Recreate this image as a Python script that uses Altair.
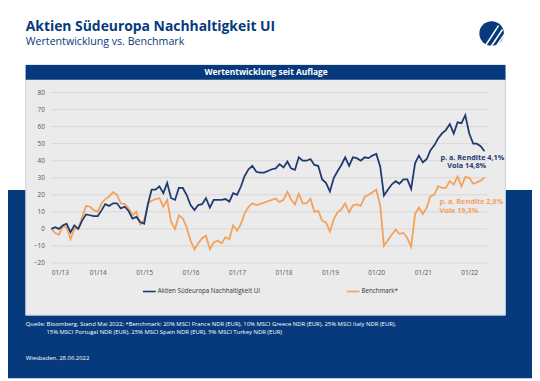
import altair as alt
import pandas as pd

# ---------------- data ----------------
fund_name = "Aktien Südeuropa Nachhaltigkeit UI"
bench_name = "Benchmark*"
start_month = "2013-01-01"

fund_values = [
    0, 1, 0, 2, 3, -2, 2, 0, 5, 8.5, 8, 7.5,
    7.5, 11, 14.5, 13.5, 15, 15, 12, 13, 10.5, 6, 7, 4,
    3, 15, 23, 23, 25, 21, 27, 18, 17, 24, 24, 20,
    14, 11, 14, 14.5, 18, 12.5, 17, 17, 17, 17.5, 16, 21,
    20, 25, 31, 35, 37, 33.5, 33, 33, 34, 35, 35.5, 38,
    36, 39.5, 35.5, 34.6, 42, 40, 40, 41, 37.5, 37, 29, 27,
    22, 30, 33.7, 37.5, 42, 37, 42, 41.5, 40, 42, 41.5, 43,
    44, 36.5, 19.6, 23, 26, 28, 26.5, 29, 29, 23.5, 38.5, 43,
    39, 41, 46, 49, 53, 56, 58, 61.5, 56, 62.5, 62, 66.7,
    56, 50, 50, 48.5, 45.6,
]
bench_values = [
    0, -2.5, -3.5, 1.5, 1, -6, 0, 0, 7, 13.5, 13, 11,
    10, 15, 17.5, 19, 21.5, 20, 15, 14.5, 12, 8, 10, 2.5,
    5, 15, 16.5, 17.5, 18, 13, 17, 4, 0, 8, 6, 1,
    -7, -12, -8.5, -5.5, -4, -12, -8, -7, -8.5, -5, -6, 2,
    -1, 3, 9, 13, 15, 14, 14.5, 15.4, 16.2, 17, 17.7, 15.8,
    17, 21.7, 17.3, 14.4, 20.6, 15, 15, 17.7, 10, 10.6, 4.8, 3.8,
    -1.5, 5.8, 9.6, 11.5, 15, 9.6, 13.8, 14.4, 13.5, 18.8, 20, 21.5,
    23, 13.5, -10, -6.7, -3.5, -0.4, -3, -2.3, -5.4, -10.6, 8.7, 12.5,
    8.7, 12.5, 19.2, 20, 25, 24, 24, 28, 26, 30.8, 25, 30.4,
    30, 26.5, 27.3, 28.3, 30,
]
y_ticks = [-20, -10, 0, 10, 20, 30, 40, 50, 60, 70, 80]
x_tick_years = list(range(2013, 2023))

main_title = "Aktien Südeuropa Nachhaltigkeit UI"
sub_title = "Wertentwicklung vs. Benchmark"
panel_title = "Wertentwicklung seit Auflage"
fund_notes = ["p. a. Rendite 4,1%", "Vola 14,8%"]
bench_notes = ["p. a. Rendite 2,8%", "Vola 19,3%"]
source_lines = [
    "Quelle: Bloomberg, Stand Mai 2022; *Benchmark:  20% MSCI France NDR (EUR), 10% MSCI Greece NDR (EUR), 25% MSCI Italy NDR (EUR),",
    "15% MSCI Portugal NDR (EUR), 25% MSCI Spain NDR (EUR), 5% MSCI Turkey NDR (EUR)",
]
place_date = "Wiesbaden, 28.06.2022"

# ---------------- styling ----------------
NAVY = "#063a7c"
FUND = "#1f3a70"
BENCH = "#f4a15c"
PANEL = "#ebebeb"
GRID = "#d2d2d2"
LABEL = "#555555"
FONT = "Open Sans"
W, H = 443, 173

dates = pd.date_range(start_month, periods=len(fund_values), freq="MS")
df_fund = pd.DataFrame({"date": dates, "value": fund_values})
df_bench = pd.DataFrame({"date": dates[: len(bench_values)], "value": bench_values})

x_scale = alt.Scale(domain=[alt.DateTime(year=2013, month=1, date=1),
                            alt.DateTime(year=2022, month=5, date=26)])
y_scale = alt.Scale(domain=[-20, 80], nice=False)
x_axis = alt.Axis(values=[alt.DateTime(year=y, month=1, date=1) for y in x_tick_years],
                  format="%m/%y", title=None, domain=False, ticks=False, grid=False,
                  labelFontSize=6.5, labelColor=LABEL, labelPadding=7, labelFont=FONT,
                  zindex=1, labelOverlap=False)
y_axis = alt.Axis(values=y_ticks, title=None, domain=False, ticks=False, grid=False,
                  labelFontSize=6.5, labelColor=LABEL, labelPadding=7, labelFont=FONT,
                  zindex=1)

base = alt.Chart(pd.DataFrame({"k": [0]}))


def rect(x, x2, y, y2, **kw):
    return base.mark_rect(**kw).encode(x=alt.value(x), x2=alt.value(x2),
                                       y=alt.value(y), y2=alt.value(y2))


def text(x, y, s, **kw):
    kw.setdefault("font", FONT)
    return base.mark_text(**kw).encode(x=alt.value(x), y=alt.value(y), text=alt.value(s))


def seg(x, y, x2, y2, **kw):
    return base.mark_rule(**kw).encode(x=alt.value(x), y=alt.value(y),
                                       x2=alt.value(x2), y2=alt.value(y2))


layers = [
    rect(-44, 488, 99, 290, color=NAVY),
    rect(-26, 461, -28, 226, color=PANEL, stroke="#c5cfdc", strokeWidth=1),
    rect(-26, 461, -28, -13, color=NAVY),
    text(218, -20.5, panel_title, align="center", baseline="middle", fontSize=8.5,
         fontWeight="bold", color="white"),
    text(-26, -63, main_title, align="left", baseline="alphabetic", fontSize=14.1,
         fontWeight="bold", color=NAVY),
    text(-26, -48, sub_title, align="left", baseline="alphabetic", fontSize=10.8,
         color=NAVY),
    base.mark_circle(size=620, color=NAVY, opacity=1).encode(x=alt.value(447), y=alt.value(-60)),
    seg(441, -48, 454, -68, color="white", strokeWidth=1.6),
    seg(446, -46, 458, -64, color="white", strokeWidth=1.6),
    seg(451, -46, 460, -59, color="white", strokeWidth=1.6),
    alt.Chart(pd.DataFrame({"v": y_ticks})).mark_rule(color=GRID, strokeWidth=0.8).encode(
        y=alt.Y("v:Q", scale=y_scale, axis=y_axis), x=alt.value(0), x2=alt.value(W)),
    alt.Chart(df_bench).mark_line(color=BENCH, strokeWidth=1.8).encode(
        x=alt.X("date:T", scale=x_scale, axis=x_axis),
        y=alt.Y("value:Q", scale=y_scale, axis=y_axis)),
    alt.Chart(df_fund).mark_line(color=FUND, strokeWidth=1.8).encode(
        x=alt.X("date:T", scale=x_scale, axis=x_axis),
        y=alt.Y("value:Q", scale=y_scale, axis=y_axis)),
    text(395, 66, fund_notes[0], align="left", baseline="middle", fontSize=7.4,
         fontWeight="bold", color=FUND),
    text(402, 75, fund_notes[1], align="left", baseline="middle", fontSize=7.4,
         fontWeight="bold", color=FUND),
    text(394, 111, bench_notes[0], align="left", baseline="middle", fontSize=7.4,
         fontWeight="bold", color=BENCH),
    text(394, 120, bench_notes[1], align="left", baseline="middle", fontSize=7.4,
         fontWeight="bold", color=BENCH),
    seg(93, 202, 106, 202, color=FUND, strokeWidth=1.6),
    text(108, 202, fund_name, align="left", baseline="middle", fontSize=6.3, color="#333333"),
    seg(300, 202, 313, 202, color=BENCH, strokeWidth=1.6),
    text(315, 202, bench_name, align="left", baseline="middle", fontSize=6.3, color="#333333"),
    text(-26, 234.5, source_lines[0], align="left", baseline="middle", fontSize=6.0, color="white"),
    text(-5, 243.5, source_lines[1], align="left", baseline="middle", fontSize=6.0, color="white"),
    text(-26, 270, place_date, align="left", baseline="middle", fontSize=6.0, color="white"),
]

chart = alt.layer(*layers).properties(
    width=W, height=H,
    autosize=alt.AutoSizeParams(type="none"),
    padding={"left": 44, "top": 83, "right": 45, "bottom": 117},
    background="white",
).configure_view(strokeWidth=0)

chart.save("out.html", embed_options={"renderer": "svg", "actions": False})
